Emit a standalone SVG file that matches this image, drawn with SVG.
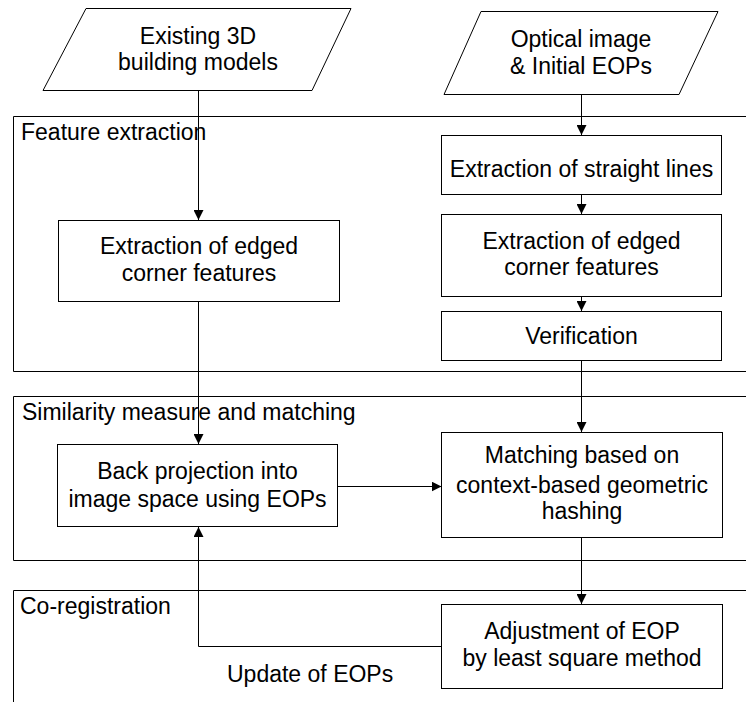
<svg xmlns="http://www.w3.org/2000/svg" width="746" height="702" viewBox="0 0 746 702">
<defs>
<style>
.box{fill:#fff;stroke:#000;stroke-width:1}
.frame{fill:none;stroke:#000;stroke-width:1}
.conn{fill:none;stroke:#000;stroke-width:1}
text{font-family:"Liberation Sans",Arial,sans-serif;font-size:23px;fill:#000}
.c{text-anchor:middle}
</style>
<marker id="arr" viewBox="0 0 10 10" refX="10" refY="5" markerWidth="10" markerHeight="10" markerUnits="userSpaceOnUse" orient="auto">
<path d="M0,0 L10,5 L0,10 z" fill="#000"/>
</marker>
</defs>
<rect width="746" height="702" fill="#fff"/>
<g id="frames">
<g id="frame-feature">
<path class="frame" d="M750,116.5 H13.5 V371.5 H750"/>
<text x="21" y="139.5">Feature extraction</text>
</g>
<g id="frame-similarity">
<path class="frame" d="M750,396.5 H13.5 V560.5 H750"/>
<text x="22" y="420">Similarity measure and matching</text>
</g>
<g id="frame-coreg">
<path class="frame" d="M750,590.5 H13.5 V702"/>
<text x="20" y="614">Co-registration</text>
</g>
</g>
<g id="connectors">
<line class="conn" x1="198.5" y1="90.5" x2="198.5" y2="220" marker-end="url(#arr)"/>
<line class="conn" x1="581.5" y1="94.5" x2="581.5" y2="135" marker-end="url(#arr)"/>
<line class="conn" x1="581.5" y1="194.5" x2="581.5" y2="214" marker-end="url(#arr)"/>
<line class="conn" x1="581.5" y1="296.5" x2="581.5" y2="311" marker-end="url(#arr)"/>
<line class="conn" x1="198.5" y1="301.5" x2="198.5" y2="444" marker-end="url(#arr)"/>
<line class="conn" x1="581.5" y1="360.5" x2="581.5" y2="432" marker-end="url(#arr)"/>
<line class="conn" x1="337.5" y1="486.5" x2="441.5" y2="486.5" marker-end="url(#arr)"/>
<line class="conn" x1="581.5" y1="537.5" x2="581.5" y2="604" marker-end="url(#arr)"/>
<path class="conn" d="M441.5,646.5 H198.5 V527" marker-end="url(#arr)"/>
<text x="227" y="681.5">Update of EOPs</text>
</g>
<g id="input-models">
<polygon class="box" points="86,8.5 351,8.5 312,90.5 43,90.5"/>
<text class="c" x="198" y="43.5">Existing 3D</text>
<text class="c" x="198" y="70">building models</text>
</g>
<g id="input-image">
<polygon class="box" points="481,11.5 718,11.5 679,94.5 444,94.5"/>
<text class="c" x="581" y="47">Optical image</text>
<text class="c" x="581" y="74">&amp; Initial EOPs</text>
</g>
<g id="extract-corners-left">
<rect class="box" x="58.5" y="220.5" width="281" height="81"/>
<text class="c" x="199" y="253.5">Extraction of edged</text>
<text class="c" x="199" y="280.5">corner features</text>
</g>
<g id="extract-lines">
<rect class="box" x="441.5" y="135.5" width="280" height="59"/>
<text class="c" x="581.5" y="176.5">Extraction of straight lines</text>
</g>
<g id="extract-corners-right">
<rect class="box" x="441.5" y="214.5" width="280" height="82"/>
<text class="c" x="581.5" y="248.5">Extraction of edged</text>
<text class="c" x="581.5" y="275">corner features</text>
</g>
<g id="verification">
<rect class="box" x="441.5" y="311.5" width="280" height="49"/>
<text class="c" x="581.5" y="343.5">Verification</text>
</g>
<g id="back-projection">
<rect class="box" x="57.5" y="444.5" width="280" height="82"/>
<text class="c" x="197.5" y="479">Back projection into</text>
<text class="c" x="197.5" y="506.5">image space using EOPs</text>
</g>
<g id="matching">
<rect class="box" x="441.5" y="432.5" width="281" height="105"/>
<text class="c" x="582" y="462.5">Matching based on</text>
<text class="c" x="582" y="492.5">context-based geometric</text>
<text class="c" x="582" y="519">hashing</text>
</g>
<g id="adjustment">
<rect class="box" x="441.5" y="604.5" width="281" height="84"/>
<text class="c" x="582" y="639">Adjustment of EOP</text>
<text class="c" x="582" y="666">by least square method</text>
</g>
</svg>
